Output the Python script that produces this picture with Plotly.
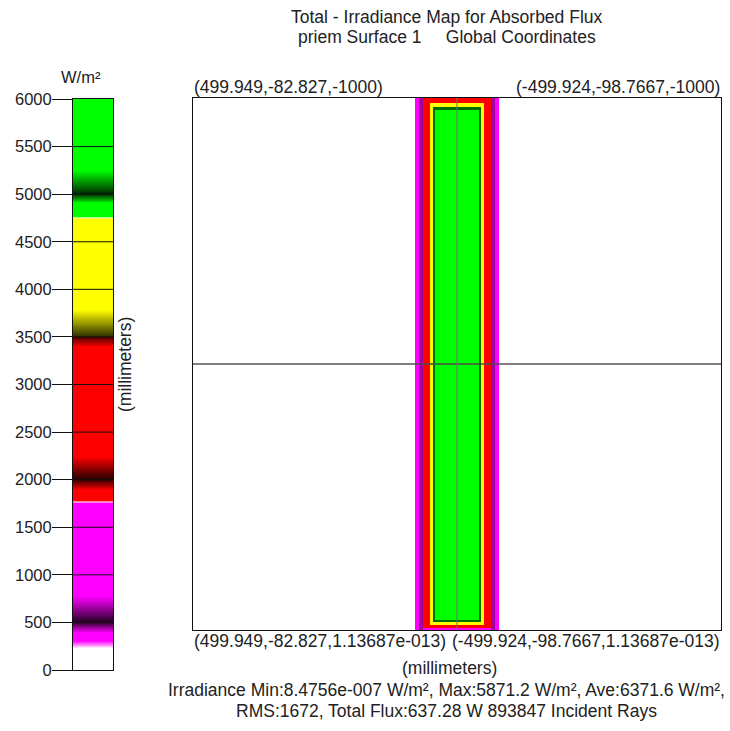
import plotly.graph_objects as go

# ---------------- data ----------------
cbar_ticks = [0, 500, 1000, 1500, 2000, 2500, 3000, 3500, 4000, 4500, 5000, 5500, 6000]
cbar_levels = list(range(0, 6001, 5))

# cell edges (mm) across the detector and irradiance per column (W/m^2)
x_edges = [-500, -79.5, -72.0, -64.4, -51.1, -45.5, -41.7, 41.7, 45.5, 51.1, 64.4, 72.0, 79.5, 500]
x_profile = [0, 350, 650, 2800, 4300, 5080, 5700, 5080, 4300, 2800, 650, 350, 0]
# cell edges (mm) along the detector and irradiance limit per row (W/m^2)
y_edges = [-1000, -996.2, -990.6, -983.1, -977.4, -18.8, -15.0, -10.3, -3.8, 0]
y_profile = [2500, 3000, 4300, 5080, 5700, 5080, 4300, 3000, 900]

title_lines = ["Total - Irradiance Map for Absorbed Flux", "priem Surface 1     Global Coordinates"]
corner_labels = ["(499.949,-82.827,-1000)", "(-499.924,-98.7667,-1000)",
                 "(499.949,-82.827,1.13687e-013)", "(-499.924,-98.7667,1.13687e-013)"]
stats_lines = ["Irradiance Min:8.4756e-007 W/m², Max:5871.2 W/m², Ave:6371.6 W/m²,",
               "RMS:1672, Total Flux:637.28 W 893847 Incident Rays"]

ZMAX = 6000.0
stops = [
    (0, "rgb(255,255,255)"), (220, "rgb(255,255,255)"), (300, "rgb(255,0,255)"),
    (385, "rgb(255,0,255)"), (500, "rgb(40,0,40)"), (770, "rgb(255,0,255)"),
    (1745, "rgb(255,0,255)"), (1760, "rgb(255,200,235)"), (1775, "rgb(255,0,0)"),
    (1890, "rgb(255,0,0)"), (2000, "rgb(40,0,0)"), (2240, "rgb(255,0,0)"),
    (3395, "rgb(255,0,0)"), (3499, "rgb(70,0,0)"), (3500, "rgb(45,45,0)"),
    (3780, "rgb(255,255,0)"), (4740, "rgb(255,255,0)"), (4752, "rgb(235,255,200)"),
    (4765, "rgb(0,255,0)"), (4905, "rgb(0,255,0)"), (5000, "rgb(0,40,0)"),
    (5250, "rgb(0,255,0)"), (6000, "rgb(0,255,0)"),
]
colorscale = [[v / ZMAX, c] for v, c in stops]

z = [[min(px, py) for px in x_profile] for py in y_profile]

W, H = 730, 731
def px(x): return x / W
def py(y): return 1 - y / H

FONT = "Liberation Sans, Arial, sans-serif"
TXT = "#222222"

fig = go.Figure()
fig.add_trace(go.Heatmap(
    x=x_edges, y=y_edges, z=z, colorscale=colorscale, zmin=0, zmax=ZMAX,
    showscale=False, hoverinfo="skip", xaxis="x", yaxis="y", zsmooth=False))

fig.add_trace(go.Heatmap(
    x=[0], y=cbar_levels, z=[[v] for v in cbar_levels], colorscale=colorscale,
    zmin=0, zmax=ZMAX, showscale=False, hoverinfo="skip", xaxis="x2", yaxis="y2"))

shapes = []
# crosshair
shapes.append(dict(type="line", xref="x", yref="y", x0=-500, x1=500, y0=-500, y1=-500,
                   line=dict(color="#000000", width=1)))
shapes.append(dict(type="line", xref="x", yref="y", x0=x_edges[1], x1=x_edges[-2], y0=-500, y1=-500,
                   line=dict(color="#707070", width=1)))
shapes.append(dict(type="line", xref="x", yref="y", x0=0, x1=0, y0=-1000, y1=0,
                   line=dict(color="#707070", width=1)))
# colorbar grid lines
for t in cbar_ticks[1:-1]:
    shapes.append(dict(type="line", xref="x2 domain", yref="y2", x0=0, x1=1, y0=t, y1=t,
                       line=dict(color="#111111", width=1)))

ann = []
def add(text, x, y, xa="center", ya="middle", size=17.5, angle=0):
    ann.append(dict(text=text, x=px(x), y=py(y), xref="paper", yref="paper", xanchor=xa,
                    yanchor=ya, showarrow=False, textangle=angle,
                    font=dict(family=FONT, size=size, color=TXT)))

add(title_lines[0], 447, 17)
add(title_lines[1], 447, 37)
add("W/m²", 81, 77, size=16.5)
add(corner_labels[0], 192, 87, xa="left")
add(corner_labels[1], 722, 87, xa="right")
add(corner_labels[2], 192, 641, xa="left")
add(corner_labels[3], 722, 641, xa="right")
add("(millimeters)", 449, 668)
add(stats_lines[0], 446, 690)
add(stats_lines[1], 446, 711)
add("(millimeters)", 125, 365, angle=-90)

common = dict(showgrid=False, zeroline=False, showline=True, mirror=True,
              linecolor="#111111", linewidth=1, automargin=False)

fig.update_layout(
    template="none",
    width=W, height=H, autosize=False, margin=dict(l=0, r=0, t=0, b=0, pad=0),
    paper_bgcolor="white", plot_bgcolor="white", showlegend=False,
    shapes=shapes, annotations=ann,
    xaxis=dict(domain=[px(193), px(721)], range=[500, -500], showticklabels=False, ticks="", **common),
    yaxis=dict(domain=[py(630), py(98)], range=[0, -1000], showticklabels=False, ticks="", **common),
    xaxis2=dict(domain=[px(73), px(113)], range=[-0.5, 0.5], showticklabels=False, ticks="",
                anchor="y2", **common),
    yaxis2=dict(domain=[py(670), py(99)], range=[0, 6000], tickvals=cbar_ticks,
                ticktext=[str(t) for t in cbar_ticks], ticks="outside", ticklen=20,
                tickwidth=1, tickcolor="#111111", ticklabelstandoff=-3,
                tickfont=dict(family=FONT, size=16.5, color=TXT), anchor="x2", **common),
)

fig.write_html("out.html", config={"displayModeBar": False, "responsive": False},
               post_script="document.body.style.margin='0';document.body.style.overflow='hidden';")
